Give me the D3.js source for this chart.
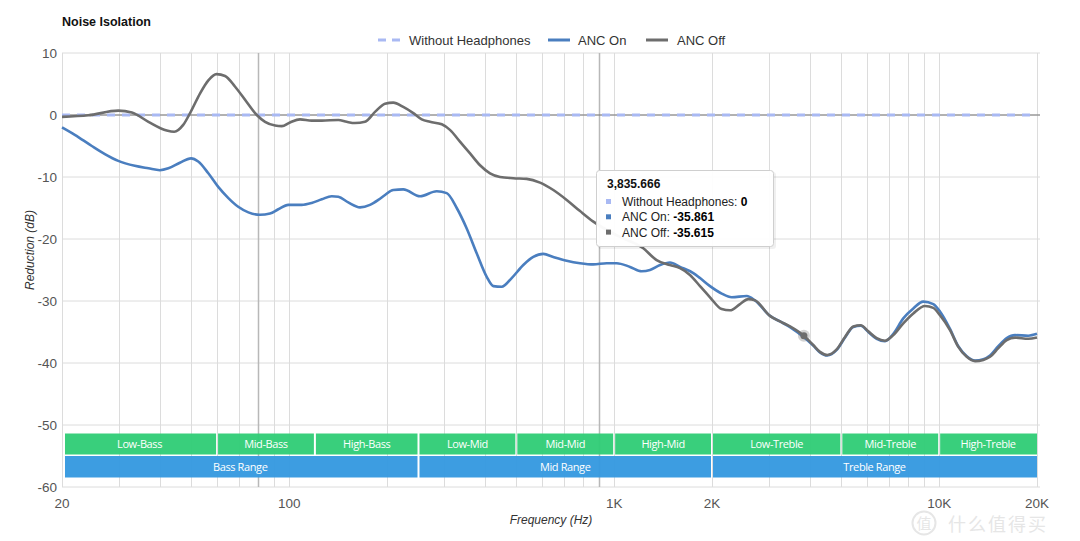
<!DOCTYPE html>
<html>
<head>
<meta charset="utf-8">
<script src="https://cdn.jsdelivr.net/npm/d3@7"></script>
<style>
  html, body { margin: 0; padding: 0; background: #fff; }
  svg { display: block; font-family: "Liberation Sans", Arial, sans-serif; }
</style>
</head>
<body>
<svg id="chart" width="1080" height="541"></svg>
<script>
// ---------- DATA ----------
const chartTitle = "Noise Isolation";
const seriesNames = ["Without Headphones", "ANC On", "ANC Off"];

const withoutFreq = [20, 20000];
const withoutDb = [0, 0];

const ancOnFreq = [20, 21.9, 24.7, 27.1, 29.8, 33.5, 36.9, 40.0, 42.5, 46.1, 49.9, 52.5, 56.4, 60.5, 65.0, 69.7, 74.9, 81.3, 87.3, 92.6, 99.4, 109.3, 117.3, 126, 135.2, 141.7, 152, 165.2, 177.3, 188, 197.2, 209.1, 224.4, 252.8, 284.4, 305.4, 327.8, 351.8, 377.6, 405.4, 424.8, 450.8, 483.8, 525.4, 563.8, 605.4, 649.8, 714.4, 785.2, 862.8, 948.4, 1018, 1119, 1215, 1289, 1384, 1485, 1594, 1752, 1837, 1972, 2142, 2300, 2558, 2712, 3016, 3238, 3476, 3835.666, 4098, 4298, 4526, 4838, 5133, 5443, 5736, 6053, 6424, 6815, 7227, 7755, 8326, 8937, 9592, 10058, 10798, 11452, 12156, 12892, 13674, 14340, 15206, 16138, 17114, 18804, 20000];
const ancOnDb = [-2.0, -3.2, -5.0, -6.3, -7.4, -8.2, -8.6, -8.9, -8.6, -7.7, -7.0, -7.5, -9.4, -11.6, -13.4, -14.8, -15.7, -16.1, -15.9, -15.2, -14.5, -14.5, -14.2, -13.6, -13.1, -13.2, -14.1, -14.9, -14.5, -13.7, -12.9, -12.1, -12.0, -13.1, -12.3, -12.6, -15.0, -18.3, -22.3, -26.1, -27.6, -27.7, -26.3, -24.2, -22.9, -22.4, -22.9, -23.5, -23.9, -24.1, -23.9, -23.9, -24.5, -25.2, -25.0, -24.2, -23.8, -24.5, -25.5, -26.3, -27.6, -28.8, -29.4, -29.2, -29.9, -32.4, -33.3, -34.2, -35.861, -37.2, -38.3, -38.8, -37.9, -35.9, -34.2, -34.0, -35.0, -36.1, -36.5, -35.3, -32.8, -31.2, -30.1, -30.5, -31.7, -34.5, -37.3, -38.9, -39.6, -39.4, -38.8, -37.3, -36.0, -35.5, -35.6, -35.3];

const ancOffFreq = [20, 24.1, 29.8, 32.8, 36.9, 42.0, 44.3, 47.2, 50.1, 53.2, 56.4, 59.8, 63.5, 68.1, 74.0, 79.5, 84.3, 90.5, 94.9, 100.6, 108, 117.3, 126, 141.7, 150.3, 159.4, 171.1, 183.7, 197.2, 209.1, 224.4, 241, 255.8, 271.2, 294.8, 312.4, 335.4, 360.2, 386.6, 415, 445.4, 489.4, 538.2, 591.4, 649.8, 714.4, 785.2, 862.8, 1027.6, 1229, 1351, 1485, 1594, 1711, 1837, 1972, 2142, 2272, 2439, 2586, 2712, 3016, 3238, 3476, 3835.666, 4098, 4298, 4526, 4838, 5133, 5443, 5736, 6053, 6424, 6815, 7227, 7755, 8326, 9045, 9592, 10058, 10798, 11452, 12156, 12892, 13674, 14340, 15206, 16138, 17114, 18804, 20000];
const ancOffDb = [-0.3, -0.05, 0.7, 0.4, -1.1, -2.5, -2.7, -1.6, 0.8, 3.5, 5.6, 6.6, 6.3, 4.6, 2.1, 0, -1.1, -1.7, -1.8, -1.2, -0.7, -0.9, -0.9, -0.8, -1.1, -1.3, -1.1, 0.5, 1.8, 2.0, 1.3, 0.3, -0.7, -1.1, -1.5, -2.4, -4.3, -6.2, -8.1, -9.4, -10.0, -10.2, -10.3, -10.9, -12.1, -13.7, -15.5, -17.2, -19.5, -21.5, -23.4, -24.2, -24.7, -25.8, -27.6, -29.4, -31.3, -31.5, -30.5, -29.7, -29.9, -32.4, -33.3, -34.1, -35.615, -37.1, -38.2, -38.7, -37.8, -35.8, -34.1, -33.9, -34.9, -36.0, -36.4, -35.5, -33.6, -32.0, -30.8, -31.1, -32.3, -34.7, -37.4, -39.0, -39.7, -39.5, -39.0, -37.6, -36.3, -35.9, -36.1, -35.9];

const yTicks = [10, 0, -10, -20, -30, -40, -50, -60];
const xTickValues = [20, 100, 1000, 2000, 10000, 20000];
const xTickLabels = ["20", "100", "1K", "2K", "10K", "20K"];
const xGridValues = [20, 30, 40, 50, 60, 70, 80, 90, 100, 200, 300, 400, 500, 600, 700, 800, 900, 1000, 2000, 3000, 4000, 5000, 6000, 7000, 8000, 9000, 10000, 20000];
const xGridDark = [80, 900];

const subBandNames = ["Low-Bass", "Mid-Bass", "High-Bass", "Low-Mid", "Mid-Mid", "High-Mid", "Low-Treble", "Mid-Treble", "High-Treble"];
const subBandEdges = [20, 60, 120, 250, 500, 1000, 2000, 5000, 10000, 20000];
const rangeNames = ["Bass Range", "Mid Range", "Treble Range"];
const rangeEdges = [20, 250, 2000, 20000];

const tooltipFreq = 3835.666;
const tooltipValues = [0, -35.861, -35.615];

// ---------- STYLE ----------
const colors = { without: "#a9b9f3", on: "#4a7ebf", off: "#6d6d6d" };
const M = { left: 62, right: 1037, top: 53, bottom: 487 };

const svg = d3.select("#chart");
const x = d3.scaleLog().domain([20, 20000]).range([M.left, M.right]);
const y = d3.scaleLinear().domain([-60, 10]).range([M.bottom, M.top]);
const fmt = d3.formatLocale({ decimal: ".", thousands: ",", grouping: [3], currency: ["", ""], minus: "-" });

// Title
svg.append("text").attr("x", 62).attr("y", 26)
  .attr("font-size", 12.5).attr("font-weight", "bold").attr("fill", "#111")
  .text(chartTitle);

// Horizontal grid
svg.append("g").selectAll("line").data(yTicks).join("line")
  .attr("x1", M.left).attr("x2", M.right + 3)
  .attr("y1", d => y(d)).attr("y2", d => y(d))
  .attr("stroke", "#dcdcdc").attr("stroke-width", 1);

// Vertical grid
svg.append("g").selectAll("line").data(xGridValues).join("line")
  .attr("x1", d => Math.round(x(d)) + 0.5).attr("x2", d => Math.round(x(d)) + 0.5)
  .attr("y1", M.top).attr("y2", M.bottom)
  .attr("stroke", d => xGridDark.includes(d) ? "#b8b8b8" : "#dcdcdc")
  .attr("stroke-width", d => xGridDark.includes(d) ? 1.5 : 1);

// Y tick labels
svg.append("g").selectAll("text").data(yTicks).join("text")
  .attr("x", 57).attr("y", d => y(d)).attr("dy", "0.35em")
  .attr("text-anchor", "end").attr("font-size", 13.5).attr("fill", "#555")
  .text(d => d);

// X tick labels
svg.append("g").selectAll("text").data(xTickValues).join("text")
  .attr("x", d => x(d)).attr("y", 508)
  .attr("text-anchor", "middle").attr("font-size", 13.5).attr("fill", "#555")
  .text((d, i) => xTickLabels[i]);

// Axis titles
svg.append("text").attr("x", 551).attr("y", 524).attr("text-anchor", "middle")
  .attr("font-size", 12).attr("font-style", "italic").attr("fill", "#333")
  .text("Frequency (Hz)");
svg.append("text").attr("transform", "translate(34,250) rotate(-90)")
  .attr("text-anchor", "middle").attr("font-size", 12).attr("font-style", "italic").attr("fill", "#333")
  .text("Reduction (dB)");

// Band bars
const bandFont = "'Open Sans', 'Noto Sans', sans-serif";
const sub = subBandNames.map((n, i) => ({ n, a: subBandEdges[i], b: subBandEdges[i + 1] }));
const rng = rangeNames.map((n, i) => ({ n, a: rangeEdges[i], b: rangeEdges[i + 1] }));
function bandRow(data, top, h, fill) {
  const g = svg.append("g");
  const left = d => (d.a === 20 ? x(d.a) + 3 : x(d.a) + 1);
  g.selectAll("rect").data(data).join("rect")
    .attr("x", left)
    .attr("width", d => x(d.b) - left(d) - 1 + (d.b === 20000 ? 1 : 0))
    .attr("y", top).attr("height", h)
    .attr("fill", fill).attr("fill-opacity", 0.95);
  g.selectAll("text").data(data).join("text")
    .attr("x", d => (x(d.a) + x(d.b)) / 2).attr("y", top + h / 2).attr("dy", "0.35em")
    .attr("text-anchor", "middle").attr("fill", "#fff")
    .attr("font-family", bandFont).attr("font-size", 11).attr("letter-spacing", -0.4)
    .text(d => d.n);
}
bandRow(sub, 433.5, 21, "#2ecc75");
bandRow(rng, 456, 21.5, "#3398df");

// Zero reference line
svg.append("line").attr("x1", M.left).attr("x2", M.right + 3)
  .attr("y1", y(0)).attr("y2", y(0)).attr("stroke", "#777").attr("stroke-width", 1);

// Series lines
const line = d3.line().x(d => x(d[0])).y(d => y(d[1])).curve(d3.curveMonotoneX);
const zip = (f, v) => f.map((d, i) => [d, v[i]]);

svg.append("path").datum(zip(withoutFreq, withoutDb))
  .attr("d", line).attr("fill", "none").attr("stroke", colors.without)
  .attr("stroke-width", 3).attr("stroke-dasharray", "8,7");
svg.append("path").datum(zip(ancOnFreq, ancOnDb))
  .attr("d", line).attr("fill", "none").attr("stroke", colors.on)
  .attr("stroke-width", 2.6).attr("stroke-linejoin", "round");
svg.append("path").datum(zip(ancOffFreq, ancOffDb))
  .attr("d", line).attr("fill", "none").attr("stroke", colors.off)
  .attr("stroke-width", 2.6).attr("stroke-linejoin", "round");

// Hover marker
svg.append("circle").attr("cx", x(tooltipFreq)).attr("cy", y(tooltipValues[2]))
  .attr("r", 6).attr("fill", colors.off).attr("fill-opacity", 0.3);
svg.append("circle").attr("cx", x(tooltipFreq)).attr("cy", y(tooltipValues[2]))
  .attr("r", 3.5).attr("fill", colors.off);

// Legend
const lg = svg.append("g");
lg.append("line").attr("x1", 378).attr("x2", 400).attr("y1", 40).attr("y2", 40)
  .attr("stroke", colors.without).attr("stroke-width", 3).attr("stroke-dasharray", "8,6");
lg.append("text").attr("x", 409).attr("y", 45).attr("font-size", 13).attr("fill", "#333").text(seriesNames[0]);
lg.append("line").attr("x1", 548).attr("x2", 570).attr("y1", 40).attr("y2", 40)
  .attr("stroke", colors.on).attr("stroke-width", 3);
lg.append("text").attr("x", 578).attr("y", 45).attr("font-size", 13).attr("fill", "#333").text(seriesNames[1]);
lg.append("line").attr("x1", 646).attr("x2", 668).attr("y1", 40).attr("y2", 40)
  .attr("stroke", colors.off).attr("stroke-width", 3);
lg.append("text").attr("x", 677).attr("y", 45).attr("font-size", 13).attr("fill", "#333").text(seriesNames[2]);

// Tooltip
const tt = svg.append("g");
tt.append("rect").attr("x", 598).attr("y", 172).attr("width", 178).attr("height", 77)
  .attr("rx", 3).attr("fill", "#000").attr("fill-opacity", 0.06);
tt.append("rect").attr("x", 596.5).attr("y", 170.5).attr("width", 177).attr("height", 76)
  .attr("rx", 3).attr("fill", "#fff").attr("fill-opacity", 0.96).attr("stroke", "#cfcfcf");
tt.append("text").attr("x", 607).attr("y", 188).attr("font-size", 12).attr("font-weight", "bold").attr("fill", "#111")
  .text(fmt.format(",.3f")(tooltipFreq));
const ttColors = [colors.without, colors.on, colors.off];
seriesNames.forEach((n, i) => {
  const yy = 206 + i * 15.3;
  tt.append("rect").attr("x", 606).attr("y", yy - 7).attr("width", 5).attr("height", 5).attr("fill", ttColors[i]);
  const t = tt.append("text").attr("x", 622).attr("y", yy).attr("font-size", 12).attr("fill", "#222");
  t.append("tspan").text(n + ": ");
  t.append("tspan").attr("font-weight", "bold").attr("fill", "#000")
    .text(tooltipValues[i] === 0 ? "0" : fmt.format(".3f")(tooltipValues[i]));
});

// Watermark
const wm = svg.append("g").attr("opacity", 0.55);
wm.append("circle").attr("cx", 924).attr("cy", 523).attr("r", 11.5)
  .attr("fill", "none").attr("stroke", "#d2d2d2").attr("stroke-width", 2);
wm.append("text").attr("x", 924).attr("y", 529).attr("text-anchor", "middle")
  .attr("font-family", "'Noto Sans CJK SC', sans-serif").attr("font-size", 15).attr("fill", "#d2d2d2").text("值");
wm.append("text").attr("x", 948).attr("y", 531)
  .attr("font-family", "'Noto Sans CJK SC', sans-serif").attr("font-size", 18).attr("fill", "#d2d2d2")
  .attr("letter-spacing", 2).text("什么值得买");
</script>
</body>
</html>
